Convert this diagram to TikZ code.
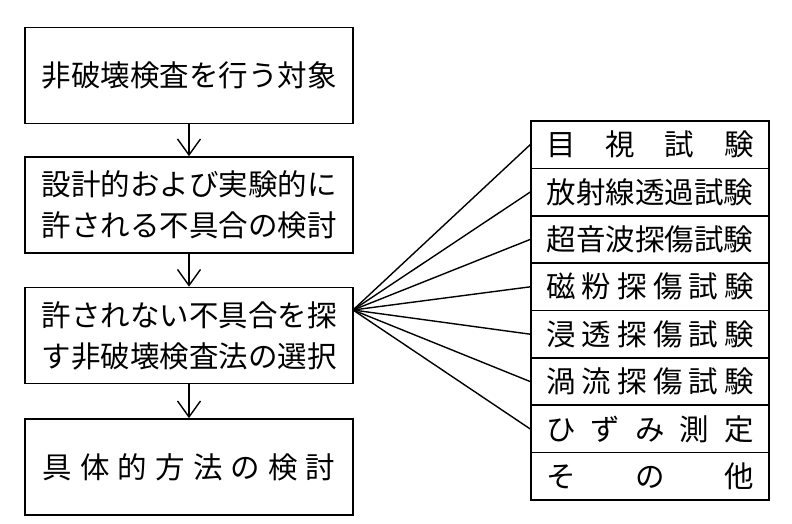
\documentclass[tikz,border=0pt]{standalone}
\usepackage{fontspec}
\newfontfamily\jfont{Noto Sans CJK JP}
\usetikzlibrary{arrows.meta}

\begin{document}
\begin{tikzpicture}[x=1pt, y=-1pt,
  stepbox/.style={draw, line width=1.7pt, minimum width=328pt, minimum height=96pt,
    inner sep=0pt, align=center, font=\jfont\fontsize{29.5}{41}\selectfont},
  listbox/.style={draw, line width=1.6pt, minimum width=238pt, minimum height=47.4pt,
    inner sep=0pt, font=\jfont\fontsize{29.5}{35}\selectfont},
  flow/.style={line width=1.4pt, -{Straight Barb[length=16pt, width=23pt, line width=1.4pt]}},
  fan/.style={line width=1.4pt}]
\useasboundingbox (0,0) rectangle (792,523);

% Left column: the steps
\node[stepbox] (target) at (189,75.5) {非破壊検査を行う対象};
\node[stepbox] (allow) at (189,205) {設計的および実験的に\\許される不具合の検討};
\node[stepbox] (select) at (189,335.5) {許されない不具合を探\\す非破壊検査法の選択};
\node[stepbox] (method) at (189,467) {\makebox[293pt]{具\hfill 体\hfill 的\hfill 方\hfill 法\hfill の\hfill 検\hfill 討}};

\draw[flow] (target) -- (allow);
\draw[flow] (allow) -- (select);
\draw[flow] (select) -- (method);

% Right column: the test methods
\foreach \lab [count=\i] in {
  {目\hfill 視\hfill 試\hfill 験},
  {放射線透過試験},
  {超音波探傷試験},
  {磁\hfill 粉\hfill 探\hfill 傷\hfill 試\hfill 験},
  {浸\hfill 透\hfill 探\hfill 傷\hfill 試\hfill 験},
  {渦\hfill 流\hfill 探\hfill 傷\hfill 試\hfill 験},
  {ひ\hfill ず\hfill み\hfill 測\hfill 定},
  {そ\hfill の\hfill 他}}
  \node[listbox] (m\i) at (650,{121+47.375*(\i-0.5)}) {\makebox[208pt]{\lab}};

% Fan from the selection box
\coordinate (fan) at (353,310);
\foreach \i in {1,...,7}
  \draw[fan] (fan) -- (m\i.west);
\end{tikzpicture}
\end{document}
